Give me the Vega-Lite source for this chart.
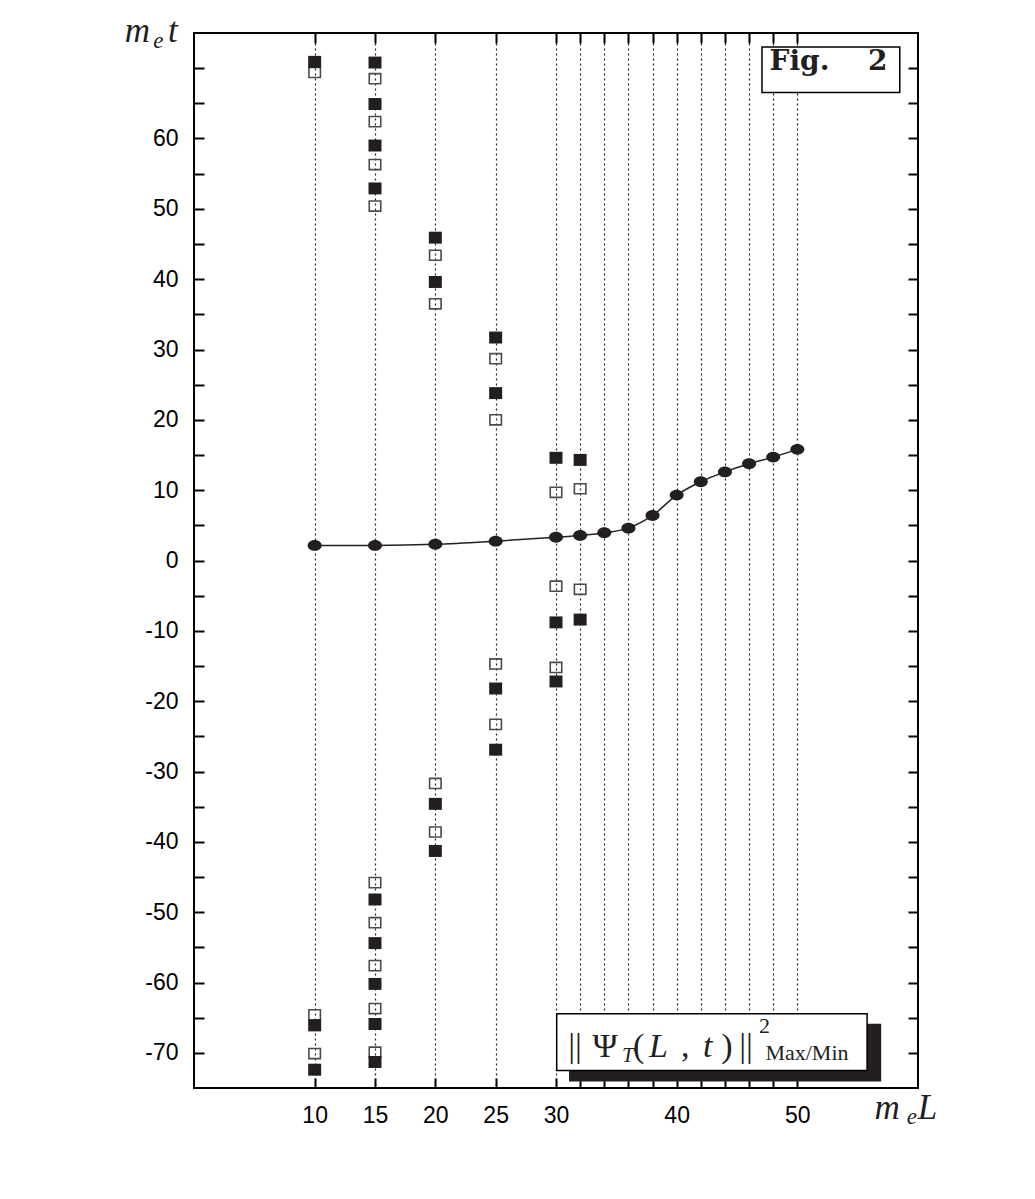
{
  "$schema": "https://vega.github.io/schema/vega-lite/v6.json",
  "width": 724,
  "height": 1055,
  "autosize": {"type": "none"},
  "padding": {"left": 194, "top": 33, "right": 117, "bottom": 111},
  "background": "white",
  "config": {
    "view": {"stroke": "black", "strokeWidth": 2},
    "axis": {"domain": false, "labelFont": "Liberation Sans", "labelFontSize": 23, "labelColor": "black", "tickColor": "black", "tickWidth": 2, "tickSize": -10, "title": null, "labelPadding": 26}
  },
  "datasets": {
    "curve": [
      {"L": 10, "t": 2.15}, {"L": 15, "t": 2.15}, {"L": 20, "t": 2.3}, {"L": 25, "t": 2.75},
      {"L": 30, "t": 3.3}, {"L": 32, "t": 3.55}, {"L": 34, "t": 3.95}, {"L": 36, "t": 4.6},
      {"L": 38, "t": 6.4}, {"L": 40, "t": 9.3}, {"L": 42, "t": 11.2}, {"L": 44, "t": 12.6},
      {"L": 46, "t": 13.75}, {"L": 48, "t": 14.7}, {"L": 50, "t": 15.8}
    ],
    "squares": [
      {"L": 10, "t": 70.9, "kind": "filled"}, {"L": 10, "t": -66.1, "kind": "filled"}, {"L": 10, "t": -72.4, "kind": "filled"},
      {"L": 15, "t": 70.8, "kind": "filled"}, {"L": 15, "t": 64.9, "kind": "filled"}, {"L": 15, "t": 59.0, "kind": "filled"}, {"L": 15, "t": 52.9, "kind": "filled"},
      {"L": 15, "t": -48.2, "kind": "filled"}, {"L": 15, "t": -54.4, "kind": "filled"}, {"L": 15, "t": -60.2, "kind": "filled"}, {"L": 15, "t": -65.9, "kind": "filled"}, {"L": 15, "t": -71.3, "kind": "filled"},
      {"L": 20, "t": 45.9, "kind": "filled"}, {"L": 20, "t": 39.6, "kind": "filled"}, {"L": 20, "t": -34.6, "kind": "filled"}, {"L": 20, "t": -41.3, "kind": "filled"},
      {"L": 25, "t": 31.7, "kind": "filled"}, {"L": 25, "t": 23.8, "kind": "filled"}, {"L": 25, "t": -18.2, "kind": "filled"}, {"L": 25, "t": -26.9, "kind": "filled"},
      {"L": 30, "t": 14.6, "kind": "filled"}, {"L": 30, "t": -8.8, "kind": "filled"}, {"L": 30, "t": -17.2, "kind": "filled"},
      {"L": 32, "t": 14.3, "kind": "filled"}, {"L": 32, "t": -8.4, "kind": "filled"},
      {"L": 10, "t": 69.4, "kind": "open"}, {"L": 10, "t": -64.6, "kind": "open"}, {"L": 10, "t": -70.1, "kind": "open"},
      {"L": 15, "t": 68.5, "kind": "open"}, {"L": 15, "t": 62.4, "kind": "open"}, {"L": 15, "t": 56.3, "kind": "open"}, {"L": 15, "t": 50.4, "kind": "open"},
      {"L": 15, "t": -45.8, "kind": "open"}, {"L": 15, "t": -51.5, "kind": "open"}, {"L": 15, "t": -57.6, "kind": "open"}, {"L": 15, "t": -63.7, "kind": "open"}, {"L": 15, "t": -69.9, "kind": "open"},
      {"L": 20, "t": 43.4, "kind": "open"}, {"L": 20, "t": 36.5, "kind": "open"}, {"L": 20, "t": -31.7, "kind": "open"}, {"L": 20, "t": -38.6, "kind": "open"},
      {"L": 25, "t": 28.7, "kind": "open"}, {"L": 25, "t": 20.0, "kind": "open"}, {"L": 25, "t": -14.7, "kind": "open"}, {"L": 25, "t": -23.3, "kind": "open"},
      {"L": 30, "t": 9.7, "kind": "open"}, {"L": 30, "t": -3.65, "kind": "open"}, {"L": 30, "t": -15.2, "kind": "open"},
      {"L": 32, "t": 10.2, "kind": "open"}, {"L": 32, "t": -4.1, "kind": "open"}
    ]
  },
  "resolve": {"axis": {"x": "independent", "y": "independent"}},
  "layer": [
    {
      "data": {"name": "curve"},
      "mark": {"type": "line", "interpolate": "monotone", "color": "#231f20", "strokeWidth": 1.5},
      "encoding": {
        "x": {"field": "L", "type": "quantitative", "scale": {"domain": [0, 60], "nice": false, "zero": false},
          "axis": {"orient": "bottom", "values": [10, 15, 20, 25, 30, 32, 34, 36, 38, 40, 42, 44, 46, 48, 50], "grid": true, "gridDash": [2, 3], "gridColor": "#222", "gridWidth": 1.2,
            "labelExpr": "indexof([10,15,20,25,30,40,50], datum.value) >= 0 ? toString(datum.value) : ''"}},
        "y": {"field": "t", "type": "quantitative", "scale": {"domain": [-75, 75], "nice": false, "zero": false},
          "axis": {"orient": "left", "values": [-70, -65, -60, -55, -50, -45, -40, -35, -30, -25, -20, -15, -10, -5, 0, 5, 10, 15, 20, 25, 30, 35, 40, 45, 50, 55, 60, 65, 70], "grid": false,
            "labelExpr": "datum.value % 10 == 0 && datum.value != 70 ? toString(datum.value) : ''"}}
      }
    },
    {
      "data": {"name": "curve"},
      "mark": {"type": "point", "opacity": 0},
      "encoding": {
        "x": {"field": "L", "type": "quantitative", "scale": {"domain": [0, 60], "nice": false, "zero": false},
          "axis": {"orient": "top", "values": [10, 15, 20, 25, 30, 32, 34, 36, 38, 40, 42, 44, 46, 48, 50], "labels": false, "grid": false}},
        "y": {"field": "t", "type": "quantitative", "scale": {"domain": [-75, 75], "nice": false, "zero": false},
          "axis": {"orient": "right", "values": [-70, -65, -60, -55, -50, -45, -40, -35, -30, -25, -20, -15, -10, -5, 0, 5, 10, 15, 20, 25, 30, 35, 40, 45, 50, 55, 60, 65, 70], "labels": false, "grid": false}}
      }
    },
    {
      "data": {"name": "curve"},
      "mark": {"type": "point", "shape": "M-1,0A1,0.78,0,1,0,1,0A1,0.78,0,1,0,-1,0Z", "filled": true, "color": "#231f20", "size": 196, "opacity": 1},
      "encoding": {
        "x": {"field": "L", "type": "quantitative", "axis": null},
        "y": {"field": "t", "type": "quantitative", "axis": null}
      }
    },
    {
      "data": {"name": "squares"},
      "transform": [{"filter": "datum.kind == 'open'"}],
      "mark": {"type": "point", "shape": "M-1,-0.88L1,-0.88L1,0.88L-1,0.88Z", "filled": false, "stroke": "#4a4a4a", "strokeWidth": 1.6, "size": 132, "opacity": 1},
      "encoding": {
        "x": {"field": "L", "type": "quantitative", "axis": null},
        "y": {"field": "t", "type": "quantitative", "axis": null}
      }
    },
    {
      "data": {"name": "squares"},
      "transform": [{"filter": "datum.kind == 'filled'"}],
      "mark": {"type": "point", "shape": "M-1,-0.92L1,-0.92L1,0.92L-1,0.92Z", "filled": true, "color": "#231f20", "size": 169, "opacity": 1},
      "encoding": {
        "x": {"field": "L", "type": "quantitative", "axis": null},
        "y": {"field": "t", "type": "quantitative", "axis": null}
      }
    },
    {
      "data": {"values": [{"x1": 47.07, "x2": 58.49, "y1": 73.0, "y2": 66.55}]},
      "mark": {"type": "rect", "fill": "white", "stroke": "black", "strokeWidth": 1.5},
      "encoding": {
        "x": {"field": "x1", "type": "quantitative", "axis": null},
        "x2": {"field": "x2"},
        "y": {"field": "y1", "type": "quantitative", "axis": null},
        "y2": {"field": "y2"}
      }
    },
    {
      "data": {"values": [{"x": 50.18, "y": 69.68, "label": "Fig."}, {"x": 56.66, "y": 69.68, "label": "2"}]},
      "mark": {"type": "text", "align": "center", "baseline": "alphabetic", "font": "DejaVu Serif", "fontWeight": "bold", "fontSize": 28, "color": "#231f20"},
      "encoding": {
        "x": {"field": "x", "type": "quantitative", "axis": null},
        "y": {"field": "y", "type": "quantitative", "axis": null},
        "text": {"field": "label"}
      }
    },
    {
      "data": {"values": [{"x1": 31.08, "x2": 56.95, "y1": -65.87, "y2": -74.07}]},
      "mark": {"type": "rect", "fill": "#231f20"},
      "encoding": {
        "x": {"field": "x1", "type": "quantitative", "axis": null},
        "x2": {"field": "x2"},
        "y": {"field": "y1", "type": "quantitative", "axis": null},
        "y2": {"field": "y2"}
      }
    },
    {
      "data": {"values": [{"x1": 30.06, "x2": 55.78, "y1": -64.44, "y2": -72.5}]},
      "mark": {"type": "rect", "fill": "white", "stroke": "black", "strokeWidth": 1.5},
      "encoding": {
        "x": {"field": "x1", "type": "quantitative", "axis": null},
        "x2": {"field": "x2"},
        "y": {"field": "y1", "type": "quantitative", "axis": null},
        "y2": {"field": "y2"}
      }
    },
    {
      "data": {"values": [{"x": 31.58, "y": -70.56, "label": "||"}, {"x": 34.07, "y": -70.56, "label": "Ψ"}, {"x": 36.86, "y": -70.56, "label": "("}, {"x": 40.71, "y": -70.56, "label": ","}, {"x": 44.17, "y": -70.56, "label": ")"}, {"x": 45.75, "y": -70.56, "label": "||"}]},
      "mark": {"type": "text", "align": "center", "baseline": "alphabetic", "font": "Liberation Serif", "fontSize": 34, "color": "#231f20"},
      "encoding": {
        "x": {"field": "x", "type": "quantitative", "axis": null},
        "y": {"field": "y", "type": "quantitative", "axis": null},
        "text": {"field": "label"}
      }
    },
    {
      "data": {"values": [{"x": 38.49, "y": -70.56, "label": "L"}, {"x": 42.57, "y": -70.56, "label": "t"}]},
      "mark": {"type": "text", "align": "center", "baseline": "alphabetic", "font": "Liberation Serif", "fontStyle": "italic", "fontSize": 34, "color": "#231f20"},
      "encoding": {
        "x": {"field": "x", "type": "quantitative", "axis": null},
        "y": {"field": "y", "type": "quantitative", "axis": null},
        "text": {"field": "label"}
      }
    },
    {
      "data": {"values": [{"x": 35.95, "y": -71.27, "label": "T"}]},
      "mark": {"type": "text", "align": "center", "baseline": "alphabetic", "font": "Liberation Serif", "fontStyle": "italic", "fontSize": 21, "color": "#231f20"},
      "encoding": {
        "x": {"field": "x", "type": "quantitative", "axis": null},
        "y": {"field": "y", "type": "quantitative", "axis": null},
        "text": {"field": "label"}
      }
    },
    {
      "data": {"values": [{"x": 47.28, "y": -67.15, "label": "2"}, {"x": 50.8, "y": -71.0, "label": "Max/Min"}]},
      "mark": {"type": "text", "align": "center", "baseline": "alphabetic", "font": "Liberation Serif", "fontSize": 22, "color": "#231f20"},
      "encoding": {
        "x": {"field": "x", "type": "quantitative", "axis": null},
        "y": {"field": "y", "type": "quantitative", "axis": null},
        "text": {"field": "label"}
      }
    },
    {
      "data": {"values": [{"x": -4.7, "y": 73.66, "label": "m"}, {"x": -1.76, "y": 73.66, "label": "t"}, {"x": 57.44, "y": -79.37, "label": "m"}, {"x": 60.79, "y": -79.37, "label": "L"}]},
      "mark": {"type": "text", "align": "center", "baseline": "alphabetic", "font": "Liberation Serif", "fontStyle": "italic", "fontSize": 35, "color": "#231f20"},
      "encoding": {
        "x": {"field": "x", "type": "quantitative", "axis": null},
        "y": {"field": "y", "type": "quantitative", "axis": null},
        "text": {"field": "label"}
      }
    },
    {
      "data": {"values": [{"x": -2.95, "y": 72.87, "label": "e"}, {"x": 59.5, "y": -80.08, "label": "e"}]},
      "mark": {"type": "text", "align": "center", "baseline": "alphabetic", "font": "Liberation Serif", "fontStyle": "italic", "fontSize": 23, "color": "#231f20"},
      "encoding": {
        "x": {"field": "x", "type": "quantitative", "axis": null},
        "y": {"field": "y", "type": "quantitative", "axis": null},
        "text": {"field": "label"}
      }
    }
  ]
}
